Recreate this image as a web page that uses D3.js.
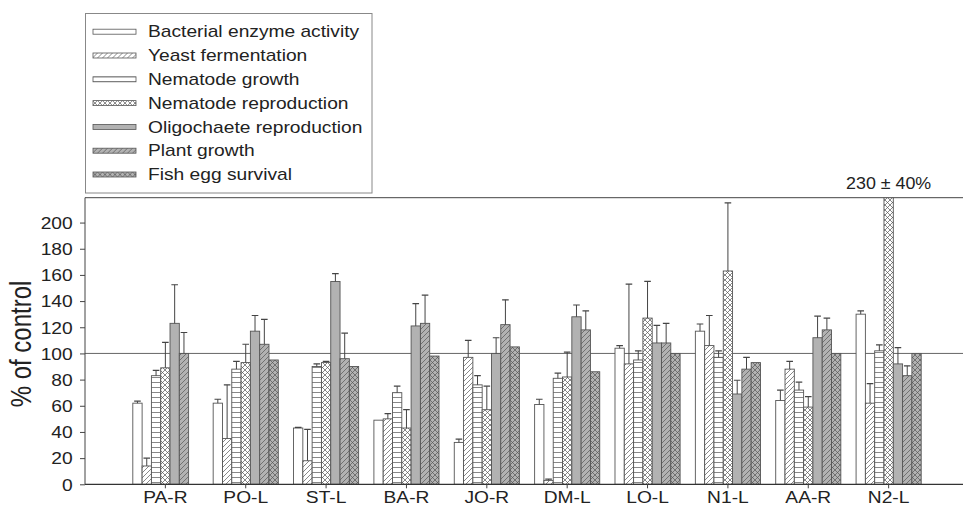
<!DOCTYPE html>
<html>
<head>
<meta charset="utf-8">
<script src="https://cdn.jsdelivr.net/npm/d3@7"></script>
<style>
  body { margin: 0; background: #fff; }
  svg { display: block; font-family: "Liberation Sans", Arial, sans-serif; }
</style>
</head>
<body>
<div id="chart"></div>
<script>
// sites on the x axis
var sites = ["PA-R", "PO-L", "ST-L", "BA-R", "JO-R", "DM-L", "LO-L", "N1-L", "AA-R", "N2-L"];
// test names (legend order)
var tests = ["Bacterial enzyme activity", "Yeast fermentation", "Nematode growth",
             "Nematode reproduction", "Oligochaete reproduction", "Plant growth", "Fish egg survival"];

// % of control, one array per test, in site order (null = not tested)
var bacterial   = [62, 62, 43, 49, 32, 61, 104, 117, 64, 130];
var yeast       = [14, 35, 18, 50, 97, 3, 92, 106, 88, 62];
var nemGrowth   = [83, 88, 90, 70, 76, 81, 95, 97, 72, 102];
var nemRepro    = [89, 93, 93, 43, 57, 82, 127, 163, 59, 230];
var oligochaete = [123, 117, 155, 121, 100, 128, 108, 69, 112, 92];
var plant       = [100, 107, 96, 123, 122, 118, 108, 88, 118, 83];
var fishEgg     = [null, 95, 90, 98, 105, 86, 100, 93, 100, 100];

// standard deviations (upper error bars only)
var bacterialErr   = [1.5, 3, 0.5, 0, 2.5, 4, 2, 5.5, 8, 2.5];
var yeastErr       = [6, 41, 24, 4, 13, 1, 61, 23, 6, 15];
var nemGrowthErr   = [4, 6, 2, 5, 7, 4, 7, 5, 6, 4.5];
var nemReproErr    = [19.5, 14, 1, 14, 18, 19, 28, 52, 8, 40];
var oligochaeteErr = [29.5, 12, 6, 17, 12, 9, 13.5, 10.5, 16.5, 12.5];
var plantErr       = [16, 19, 19.5, 21.5, 19, 14.5, 15, 9, 9, 7.5];
var fishEggErr     = [null, null, null, null, null, null, null, null, null, null];

var yTicks = [0, 20, 40, 60, 80, 100, 120, 140, 160, 180, 200];
var offScaleNote = "230 ± 40%";

var values = [bacterial, yeast, nemGrowth, nemRepro, oligochaete, plant, fishEgg];
var errors = [bacterialErr, yeastErr, nemGrowthErr, nemReproErr, oligochaeteErr, plantErr, fishEggErr];

var width = 963, height = 511;
var plot = {left: 85, right: 969, top: 197.7, bottom: 484.3};
var grey = "#b2b2b2", ink = "#555", textCol = "#222";
var sx = 1.2; // the original type is a bit wide

var svg = d3.select("#chart").append("svg")
    .attr("width", width)
    .attr("height", height);

// hatch patterns
var defs = svg.append("defs");
function makePattern(id, bg, kind) {
    var s = 5;
    var p = defs.append("pattern")
        .attr("id", id)
        .attr("patternUnits", "userSpaceOnUse")
        .attr("width", s).attr("height", s);
    p.append("rect").attr("width", s).attr("height", s).attr("fill", bg);
    var lines = [];
    if (kind == "h") lines.push([0, s / 2, s, s / 2]);
    if (kind == "fwd" || kind == "x") { lines.push([0, s, s, 0]); lines.push([-1, 1, 1, -1]); lines.push([s - 1, s + 1, s + 1, s - 1]); }
    if (kind == "x") { lines.push([0, 0, s, s]); lines.push([-1, s - 1, 1, s + 1]); lines.push([s - 1, -1, s + 1, 1]); }
    lines.forEach(function(l) {
        p.append("line")
            .attr("x1", l[0]).attr("y1", l[1]).attr("x2", l[2]).attr("y2", l[3])
            .attr("stroke", "#555").attr("stroke-width", 0.7);
    });
}
makePattern("p1", "#fff", "fwd");
makePattern("p2", "#fff", "h");
makePattern("p3", "#fff", "x");
makePattern("p5", grey, "fwd");
makePattern("p6", grey, "x");
var fills = ["#fff", "url(#p1)", "url(#p2)", "url(#p3)", grey, "url(#p5)", "url(#p6)"];

defs.append("clipPath").attr("id", "plotclip")
    .append("rect")
    .attr("x", plot.left).attr("y", plot.top)
    .attr("width", plot.right - plot.left).attr("height", plot.bottom - plot.top);

// scales
var step = (plot.right - plot.left) / 11;
var x = d3.scaleBand()
    .domain(sites)
    .range([plot.left + step / 2, plot.left + step / 2 + step * sites.length])
    .padding(0);
var xs = d3.scaleBand()
    .domain(d3.range(tests.length))
    .range([0, x.bandwidth()])
    .paddingInner(0)
    .paddingOuter(0.82);
var y = d3.scaleLinear()
    .domain([0, 219])
    .range([plot.bottom, plot.top]);

// reference line at 100 %
svg.append("line")
    .attr("x1", plot.left).attr("x2", plot.right)
    .attr("y1", y(100)).attr("y2", y(100))
    .attr("stroke", "#666").attr("stroke-width", 1);

// bars
var rows = [];
sites.forEach(function(s, i) {
    tests.forEach(function(t, j) {
        if (values[j][i] != null) rows.push({site: s, k: j, v: values[j][i], e: errors[j][i]});
    });
});

var g = svg.append("g").attr("clip-path", "url(#plotclip)");
g.selectAll("rect.bar").data(rows).enter()
    .append("rect")
    .attr("class", "bar")
    .attr("x", function(d) { return x(d.site) + xs(d.k); })
    .attr("y", function(d) { return y(d.v); })
    .attr("width", xs.bandwidth())
    .attr("height", function(d) { return y(0) - y(d.v); })
    .attr("fill", function(d) { return fills[d.k]; })
    .attr("stroke", ink).attr("stroke-width", 0.9);

// error bars (upper only)
var eb = g.selectAll("g.err").data(rows.filter(function(d) { return d.e; })).enter()
    .append("g").attr("class", "err");
eb.append("line")
    .attr("x1", function(d) { return x(d.site) + xs(d.k) + xs.bandwidth() / 2; })
    .attr("x2", function(d) { return x(d.site) + xs(d.k) + xs.bandwidth() / 2; })
    .attr("y1", function(d) { return y(d.v); })
    .attr("y2", function(d) { return y(d.v + d.e); })
    .attr("stroke", "#444").attr("stroke-width", 1);
eb.append("line")
    .attr("x1", function(d) { return x(d.site) + xs(d.k) + xs.bandwidth() / 2 - 3.3; })
    .attr("x2", function(d) { return x(d.site) + xs(d.k) + xs.bandwidth() / 2 + 3.3; })
    .attr("y1", function(d) { return y(d.v + d.e); })
    .attr("y2", function(d) { return y(d.v + d.e); })
    .attr("stroke", "#444").attr("stroke-width", 1.2);

// frame lines
svg.append("line")
    .attr("x1", plot.left).attr("x2", plot.right)
    .attr("y1", plot.top).attr("y2", plot.top)
    .attr("stroke", "#444").attr("stroke-width", 1);
svg.append("line")
    .attr("x1", plot.left).attr("x2", plot.right)
    .attr("y1", plot.bottom).attr("y2", plot.bottom)
    .attr("stroke", "#333").attr("stroke-width", 1.2);

// y axis
var yAxis = d3.axisLeft(y).tickValues(yTicks).tickSize(5).tickSizeOuter(0);
var ya = svg.append("g")
    .attr("transform", "translate(" + plot.left + ",0)")
    .call(yAxis);
ya.select(".domain").attr("stroke", "#444").attr("d", "M0," + plot.bottom + "V" + plot.top);
ya.selectAll(".tick line").attr("stroke", "#444");
ya.selectAll("text")
    .attr("x", 0)
    .attr("dy", "0.36em")
    .attr("transform", "translate(-12.3,0) scale(" + sx + ",1)")
    .style("font-size", "16px")
    .attr("fill", textCol);

// x axis
var xAxis = d3.axisBottom(x).tickSize(4).tickSizeOuter(0);
var xa = svg.append("g")
    .attr("transform", "translate(0," + plot.bottom + ")")
    .call(xAxis);
xa.select(".domain").remove();
xa.selectAll(".tick line").attr("stroke", "#444");
xa.selectAll("text")
    .attr("y", 0).attr("dy", 0)
    .attr("transform", "translate(0,18.7) scale(" + sx + ",1)")
    .style("font-size", "16px")
    .attr("fill", textCol);

// y label
svg.append("text")
    .attr("transform", "translate(31,344) scale(" + sx + ",1) rotate(-90)")
    .attr("text-anchor", "middle")
    .style("font-size", "24px")
    .attr("fill", textCol)
    .text("% of control");

// note for the off-scale bar
svg.append("text")
    .attr("transform", "translate(" + (x("N2-L") + xs(3) + xs.bandwidth() / 2) + ",189) scale(" + (sx * 0.93) + ",1)")
    .attr("text-anchor", "middle")
    .style("font-size", "16px")
    .attr("fill", textCol)
    .text(offScaleNote);

// legend
var lg = svg.append("g");
lg.append("rect")
    .attr("x", 85.5).attr("y", 13.5)
    .attr("width", 286.5).attr("height", 179.5)
    .attr("fill", "#fff").attr("stroke", "#888").attr("stroke-width", 1);
var item = lg.selectAll("g.item").data(tests).enter()
    .append("g").attr("class", "item")
    .attr("transform", function(d, i) { return "translate(0," + (31.7 + 23.8 * i) + ")"; });
item.append("rect")
    .attr("x", 93).attr("y", -2.5)
    .attr("width", 43).attr("height", 5)
    .attr("fill", function(d, i) { return fills[i]; })
    .attr("stroke", ink).attr("stroke-width", 0.8);
item.append("text")
    .attr("transform", "translate(148,0) scale(" + sx + ",1)")
    .attr("dy", "0.36em")
    .style("font-size", "16px")
    .attr("fill", textCol)
    .text(function(d) { return d; });
</script>
</body>
</html>
